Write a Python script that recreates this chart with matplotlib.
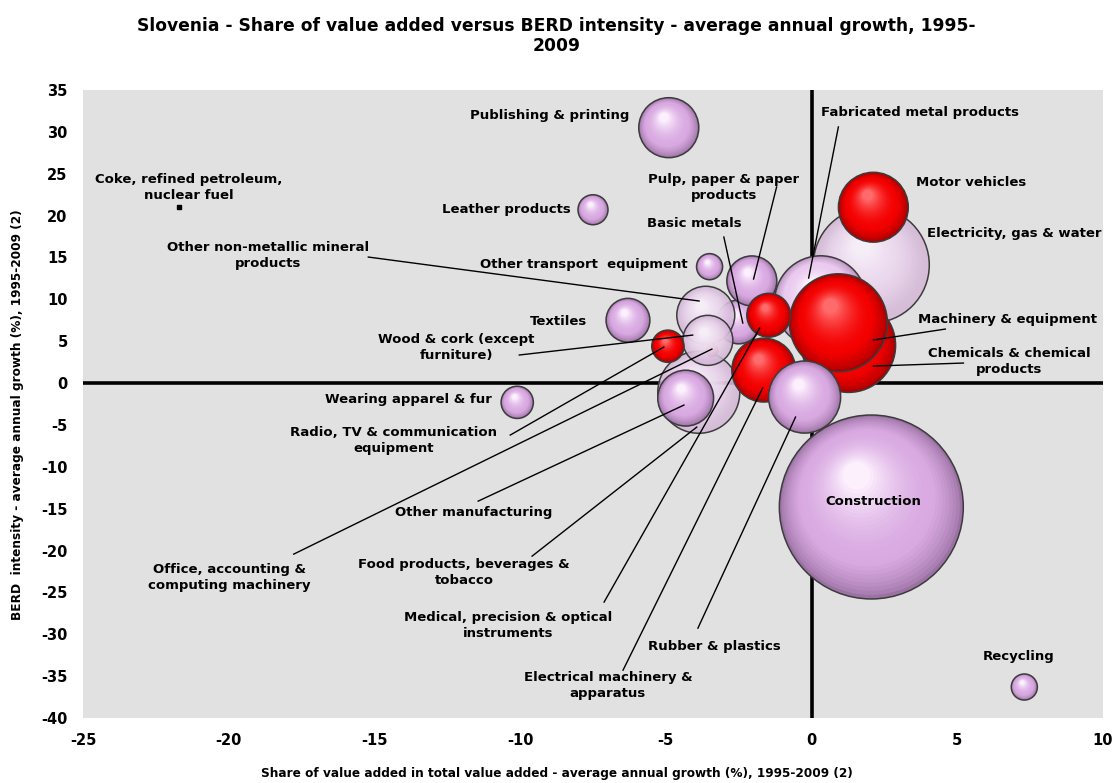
import numpy as np
import matplotlib
matplotlib.use("Agg")
import matplotlib.pyplot as plt
from matplotlib.colors import to_rgb
from matplotlib.transforms import offset_copy

plt.rcParams["axes.unicode_minus"] = False

# Dati (ordine = ordine di disegno, dal fondo verso il davanti)
settori = [
    "Construction", "Electricity, gas & water", "Fabricated metal products",
    "Chemicals & chemical products", "Machinery & equipment", "Motor vehicles",
    "Food products, beverages & tobacco", "Basic metals", "Other non-metallic mineral products",
    "Pulp, paper & paper products", "Medical, precision & optical instruments",
    "Electrical machinery & apparatus", "Rubber & plastics", "Other manufacturing",
    "Office, accounting & computing machinery", "Wood & cork (except furniture)",
    "Radio, TV & communication equipment", "Textiles", "Other transport equipment",
    "Leather products", "Publishing & printing", "Wearing apparel & fur", "Recycling",
    "Coke, refined petroleum, nuclear fuel",
]
crescita_va = [2.05, 2.05, 0.31, 1.27, 0.92, 2.12, -3.87, -2.5, -3.63, -2.05, -1.47,
               -1.64, -0.24, -4.32, -3.42, -3.56, -4.93, -6.3, -3.5, -7.5, -4.9, -10.1,
               7.3, -21.7]
intensita_berd = [-14.8, 14.1, 9.7, 4.5, 7.2, 21.0, -1.1, 7.3, 8.1, 12.2, 8.1,
                  1.55, -1.67, -1.8, 3.9, 5.1, 4.4, 7.5, 13.9, 20.7, 30.5, -2.3,
                  -36.3, 21.0]
dimensione = [84.6, 33.6, 21.2, 22.1, 24.0, 12.2, 16.8, 4.8, 8.4, 6.25, 4.8,
              10.2, 13.0, 7.8, 0.36, 6.25, 2.6, 4.8, 1.7, 2.25, 9.0, 2.6, 1.7, 0.0]
gruppo = ["viola", "chiaro", "lilla", "rosso", "rosso", "rosso", "chiaro", "viola",
          "chiaro", "viola", "rosso", "rosso", "viola", "viola", "rosso", "chiaro",
          "rosso", "viola", "viola", "viola", "viola", "viola", "viola", "nero"]

# Colori: (bordo scuro, base, riflesso, alpha)
colori = {
    "viola": ("#9c72a4", "#d9a9e2", "#fcf0fd", 1.0),
    "lilla": ("#b792bd", "#eacaef", "#fdf6fd", 1.0),
    "rosso": ("#a80000", "#f40000", "#ff6a6a", 1.0),
    "chiaro": ("#d2b4d6", "#f5e3f6", "#ffffff", 0.8),
}

# Posizione delle etichette (coordinate dei dati) e linee di richiamo
etichette = {
    "Publishing & printing": (-8.97, 32.0),
    "Coke, refined petroleum,\nnuclear fuel": (-21.37, 23.4),
    "Leather products": (-10.48, 20.7),
    "Other non-metallic mineral\nproducts": (-18.66, 15.2),
    "Other transport  equipment": (-7.81, 14.2),
    "Pulp, paper & paper\nproducts": (-3.01, 23.4),
    "Basic metals": (-4.01, 19.0),
    "Fabricated metal products": (3.73, 32.3),
    "Motor vehicles": (5.48, 23.9),
    "Electricity, gas & water": (6.95, 17.9),
    "Machinery & equipment": (6.71, 7.6),
    "Chemicals & chemical\nproducts": (6.78, 2.6),
    "Textiles": (-8.70, 7.3),
    "Wood & cork (except\nfurniture)": (-12.19, 4.3),
    "Wearing apparel & fur": (-13.84, -2.0),
    "Radio, TV & communication\nequipment": (-14.35, -6.8),
    "Other manufacturing": (-11.58, -15.5),
    "Office, accounting &\ncomputing machinery": (-19.97, -23.2),
    "Food products, beverages &\ntobacco": (-11.92, -22.6),
    "Medical, precision & optical\ninstruments": (-10.41, -29.0),
    "Electrical machinery &\napparatus": (-6.99, -36.1),
    "Rubber & plastics": (-3.32, -31.5),
    "Construction": (2.12, -14.1),
    "Recycling": (7.12, -32.7),
}
richiami = [
    ((-15.21, 15.05), (-3.86, 9.80)),
    ((-3.01, 17.44), (-2.36, 7.17)),
    ((-1.20, 23.42), (-1.99, 12.43)),
    ((0.92, 30.59), (-0.10, 12.54)),
    ((4.59, 6.45), (2.12, 5.14)),
    ((5.21, 2.39), (2.12, 2.03)),
    ((-10.03, 3.35), (-4.08, 5.73)),
    ((-10.34, -6.21), (-5.07, 4.30)),
    ((-17.77, -20.43), (-3.42, 4.06)),
    ((-11.44, -14.10), (-4.38, -2.63)),
    ((-9.59, -20.67), (-3.94, -5.26)),
    ((-7.12, -26.16), (-1.78, 6.57)),
    ((-6.47, -34.29), (-1.68, -0.60)),
    ((-3.90, -29.27), (-0.55, -4.06)),
]


def mescola(c1, c2, t):
    a = np.array(to_rgb(c1))
    b = np.array(to_rgb(c2))
    return tuple(a + (b - a) * t)


def disegna_sfera(ax, fig, x, y, raggio, stile, z):
    """Bolla con effetto 3D fatta a strati concentrici spostati verso il riflesso."""
    scuro, base, luce, alpha = colori[stile]
    n = 28
    for k in range(n):
        t = k / (n - 1)
        rr = raggio * (1 - 0.85 * t)
        dx, dy = -0.16 * raggio * t, 0.34 * raggio * t
        if t < 0.3:
            col = mescola(scuro, base, (t / 0.3) ** 0.7)
        else:
            col = mescola(base, luce, ((t - 0.3) / 0.7) ** 1.8)
        if alpha < 1:
            a = alpha if k == 0 else 0.12
        else:
            a = 1.0
        tr = offset_copy(ax.transData, fig=fig, x=dx, y=dy, units="points")
        ax.scatter([x], [y], s=(2 * rr) ** 2, color=col, alpha=a, transform=tr,
                   edgecolors="none", zorder=z)
    ax.scatter([x], [y], s=(2 * raggio) ** 2, facecolors="none",
               edgecolors="#3c3c3c", linewidths=1.1, zorder=z + 0.01)


fig = plt.figure(figsize=(11.13, 7.83), dpi=100)
ax = fig.add_axes([83 / 1113, 65 / 783, 1020 / 1113, 628 / 783])
ax.set_facecolor("#e1e1e1")
ax.set_xlim(-25, 10)
ax.set_ylim(-40, 35)
ax.set_xticks(np.arange(-25, 11, 5))
ax.set_yticks(np.arange(-40, 36, 5))
for s in ax.spines.values():
    s.set_visible(False)
ax.tick_params(length=0, labelsize=10.5, pad=11)
for lab in ax.get_xticklabels() + ax.get_yticklabels():
    lab.set_fontweight("bold")

# assi principali spessi
ax.axhline(0, color="black", lw=2.6, zorder=1)
ax.axvline(0, color="black", lw=2.6, zorder=1)

# bolle: raggio in punti (dimensione ~ area)
for i in range(len(settori)):
    if gruppo[i] == "nero":
        ax.scatter([crescita_va[i]], [intensita_berd[i]], marker="s", s=10,
                   color="black", zorder=2 + i * 0.1)
        continue
    raggio_pt = 10 * np.sqrt(dimensione[i]) * 0.72
    disegna_sfera(ax, fig, crescita_va[i], intensita_berd[i], raggio_pt, gruppo[i], 2 + i * 0.1)

for (x0, y0), (x1, y1) in richiami:
    ax.plot([x0, x1], [y0, y1], color="black", lw=1.0, zorder=10)

for testo, (tx, ty) in etichette.items():
    ax.text(tx, ty, testo, ha="center", va="center", fontsize=9.5, fontweight="bold",
            linespacing=1.3, zorder=11)

fig.text(0.5, 1 - 36 / 783,
         "Slovenia - Share of value added versus BERD intensity - average annual growth, 1995-\n2009",
         ha="center", va="center", fontsize=12.3, fontweight="bold", linespacing=1.15)
fig.text(0.5, 1 - 774 / 783,
         "Share of value added in total value added - average annual growth (%), 1995-2009 (2)",
         ha="center", va="center", fontsize=8.7, fontweight="bold")
fig.text(18 / 1113, 1 - 415 / 783,
         "BERD  intensity - average annual growth (%), 1995-2009 (2)",
         ha="center", va="center", rotation=90, fontsize=8.7, fontweight="bold")

fig.savefig("out.png", dpi=100)
